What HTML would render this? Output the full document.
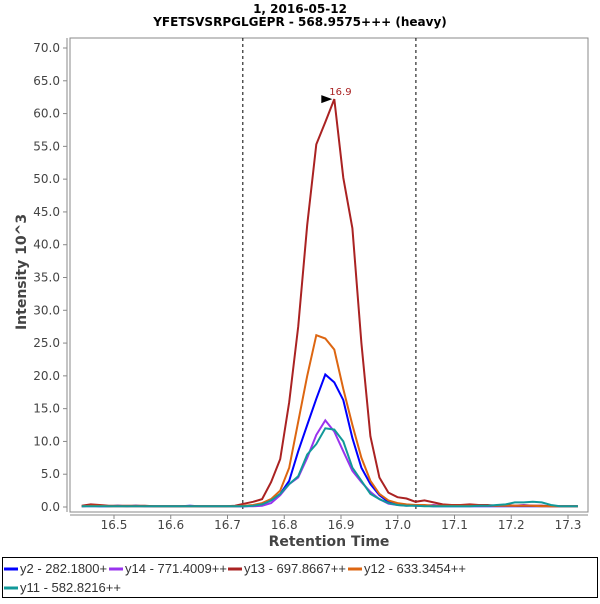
<!DOCTYPE html>
<html><head><meta charset="utf-8"><style>
body{margin:0;background:#fff;width:600px;height:600px;overflow:hidden;font-family:"DejaVu Sans","Liberation Sans",sans-serif}
svg text{font-family:"DejaVu Sans","Liberation Sans",sans-serif}
svg text.lg{font-family:"Liberation Sans",sans-serif}
</style></head><body>
<svg id="chart" width="600" height="600">
<text x="300" y="13" text-anchor="middle" font-size="12" font-weight="bold">1, 2016-05-12</text>
<text x="300" y="26" text-anchor="middle" font-size="12" font-weight="bold">YFETSVSRPGLGEPR - 568.9575+++ (heavy)</text>
<rect x="70" y="38" width="518" height="474" fill="#fff" stroke="#888"/>
<line x1="67" y1="38" x2="67" y2="512" stroke="#888"/>
<line x1="70" y1="515" x2="588" y2="515" stroke="#888"/>
<g id="yticks"></g><g id="xticks"></g><g id="series"></g>
<text transform="translate(26,272) rotate(-90)" text-anchor="middle" font-size="14" font-weight="bold" fill="#444">Intensity 10^3</text>
<text x="329" y="546" text-anchor="middle" font-size="14" font-weight="bold" fill="#444">Retention Time</text>
<rect x="2.5" y="557.5" width="595" height="40" fill="#fff" stroke="#000"/>
<g id="legend"></g>
</svg>
<script>
const yTicks=[0,5,10,15,20,25,30,35,40,45,50,55,60,65,70];
const xTicks=[16.5,16.6,16.7,16.8,16.9,17.0,17.1,17.2,17.3];
const tStart=16.443, tStep=0.0159;
const boundaries=[16.727,17.032];
const seriesNames=["y2 - 282.1800+","y14 - 771.4009++","y13 - 697.8667++","y12 - 633.3454++","y11 - 582.8216++"];
const seriesColors=["#0000ff","#9933ee","#aa2222","#dd6611","#119999"];
const y2=[0.1,0.2,0.1,0.1,0.2,0.1,0.2,0.1,0.1,0.1,0.1,0.1,0.2,0.1,0.1,0.1,0.1,0.1,0.1,0.2,0.4,1,2,4,8.5,12.5,16.5,20.2,19,16.3,10.5,6,3.5,1.8,0.8,0.4,0.3,0.2,0.2,0.1,0.1,0.1,0.1,0.1,0.1,0.1,0.1,0.1,0.1,0.1,0.1,0.1,0.1,0.1,0.1,0.1];
const y14=[0.1,0.1,0.1,0.1,0.1,0.1,0.1,0.1,0.1,0.1,0.1,0.1,0.1,0.1,0.1,0.1,0.1,0.1,0.1,0.1,0.2,0.6,1.8,3.5,4.5,7.5,11,13.2,11.5,8.5,5.5,3.8,2.3,1.2,0.5,0.3,0.2,0.3,0.2,0.3,0.2,0.3,0.3,0.2,0.2,0.2,0.2,0.2,0.2,0.3,0.2,0.2,0.1,0.1,0.1,0.1];
const y13=[0.2,0.4,0.3,0.2,0.2,0.2,0.2,0.2,0.1,0.1,0.1,0.1,0.1,0.1,0.1,0.1,0.1,0.2,0.5,0.8,1.2,3.8,7.3,16,27.5,43,55.3,58.7,62.2,50.2,42.5,25,10.8,4.5,2.2,1.5,1.3,0.8,1.0,0.7,0.4,0.3,0.3,0.4,0.3,0.3,0.2,0.3,0.2,0.2,0.2,0.2,0.1,0.1,0.1,0.1];
const y12=[0.1,0.2,0.2,0.1,0.1,0.1,0.1,0.1,0.1,0.1,0.1,0.1,0.1,0.1,0.1,0.1,0.1,0.1,0.2,0.3,0.6,1.2,2.5,6,13,20,26.2,25.7,24,18,12.5,7.5,4,2,1,0.6,0.4,0.3,0.3,0.2,0.2,0.2,0.2,0.2,0.2,0.2,0.2,0.2,0.2,0.2,0.2,0.1,0.1,0.1,0.1,0.1];
const y11=[0.1,0.1,0.1,0.1,0.1,0.1,0.1,0.1,0.1,0.1,0.1,0.1,0.1,0.1,0.1,0.1,0.1,0.1,0.1,0.2,0.4,1,2,3.5,4.7,8,9.6,12,11.8,10,6,4,2,1.2,0.6,0.3,0.2,0.2,0.1,0.1,0.1,0.1,0.1,0.1,0.2,0.2,0.3,0.4,0.7,0.7,0.8,0.7,0.3,0.1,0.1,0.1];
const seriesData=[y2,y14,y13,y12,y11];
const NS="http://www.w3.org/2000/svg";
const xs=t=>114+(t-16.5)*567.5;
const ys=v=>507-v*(459/70);
function mk(tag,attrs,parent){const e=document.createElementNS(NS,tag);for(const k in attrs)e.setAttribute(k,attrs[k]);parent.appendChild(e);return e;}
const yt=document.getElementById('yticks');
yTicks.forEach(v=>{
 const l=mk('line',{x1:63,x2:67,y1:ys(v),y2:ys(v),stroke:'#888'},yt);
 
 
 const t=mk('text',{x:60,y:ys(v)+4,'text-anchor':'end','font-size':12,fill:'#444'},yt);
 t.textContent=v.toFixed(1);
 
 
});
const xt=document.getElementById('xticks');
xTicks.forEach(v=>{
 const l=mk('line',{x1:xs(v),x2:xs(v),y1:515,y2:519,stroke:'#888'},xt);
 
 
 const t=mk('text',{x:xs(v),y:529,'text-anchor':'middle','font-size':12,fill:'#444'},xt);
 t.textContent=v.toFixed(1);
 
 
});
const sg=document.getElementById('series');
boundaries.forEach(b=>{
 const l=mk('line',{x1:xs(b),x2:xs(b),y1:38,y2:512,stroke:'#000','stroke-dasharray':'3,3'},sg);
 
 
});
seriesData.forEach((d,si)=>{
 const pts=d.map((v,i)=>xs(tStart+i*tStep).toFixed(1)+','+ys(v).toFixed(1)).join(' ');
 const p=mk('polyline',{points:pts,fill:'none',stroke:seriesColors[si],'stroke-width':2},sg);
 
 
});
let mi=0;y13.forEach((v,i)=>{if(v>y13[mi])mi=i;});
const px=xs(tStart+mi*tStep),py=ys(y13[mi]);
const ar=mk('polygon',{points:`${px-2},${py} ${px-13},${py-4} ${px-13},${py+4}`,fill:'#000'},sg);


const at=mk('text',{x:px-5,y:py-4,'font-size':10,fill:'#aa2222'},sg);
at.textContent=(tStart+mi*tStep).toFixed(1);


const lg=document.getElementById('legend');
const lpos=[[4,573],[109,573],[228,573],[348,573],[4,592]];
seriesNames.forEach((n,i)=>{
 const [x,y]=lpos[i];
 const l=mk('line',{x1:x,x2:x+14,y1:y-4,y2:y-4,stroke:seriesColors[i],'stroke-width':3},lg);
 
 
 const t=mk('text',{x:x+16,y:y,'font-size':13,fill:'#333','class':'lg'},lg);
 t.textContent=n;
 
 
});
</script>
</body></html>
